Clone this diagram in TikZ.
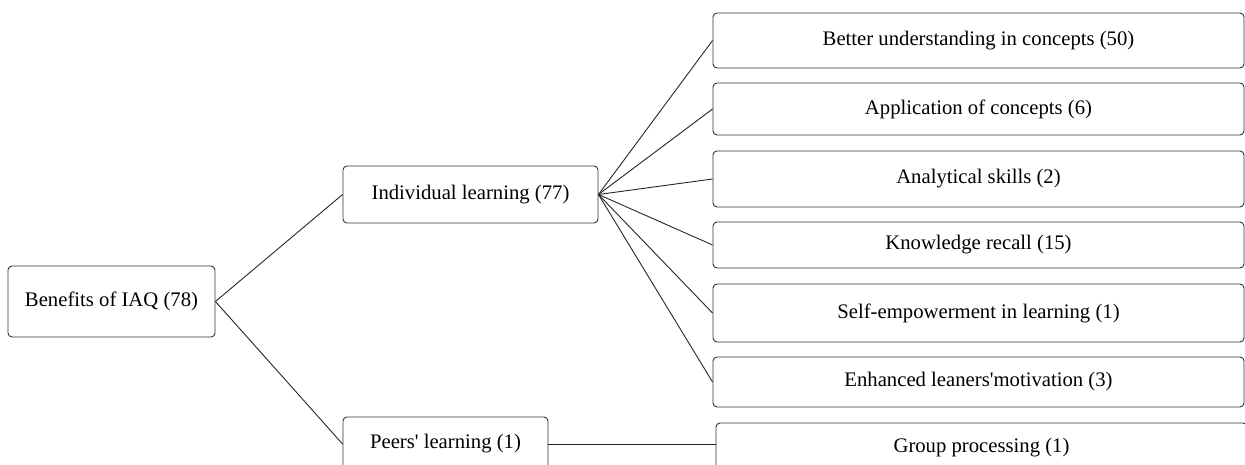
\documentclass[tikz,border=0pt]{standalone}
\usepackage{fontspec}
\setmainfont{Liberation Serif}
\begin{document}
\begin{tikzpicture}[x=1pt,y=-1pt,
	box/.style={draw=black!80,line width=0.9pt,rounded corners=4pt,fill=white,font=\fontsize{20.7}{25}\selectfont,inner sep=0pt},
	link/.style={black!85,line width=0.9pt}]
	\clip (0,0) rectangle (1245,465); %picture frame
	
	%levels 1 and 2
	\node[box,minimum width=207pt,minimum height=71pt] (root) at (111.5,301.5) {Benefits of IAQ (78)};
	\node[box,minimum width=255pt,minimum height=57pt] (indiv) at (470.5,194.5) {Individual learning (77)};
	\node[box,minimum width=205pt,minimum height=54pt] (peers) at (445.5,444) {Peers\textquotesingle{} learning (1)};
	
	%level 3
	\node[box,minimum width=531pt,minimum height=55pt] (under) at (978.5,40.5) {Better understanding in concepts (50)};
	\node[box,minimum width=531pt,minimum height=52pt] (appl) at (978.5,109) {Application of concepts (6)};
	\node[box,minimum width=531pt,minimum height=56pt] (anal) at (978.5,179) {Analytical skills (2)};
	\node[box,minimum width=531pt,minimum height=46pt] (recall) at (978.5,245) {Knowledge recall (15)};
	\node[box,minimum width=531pt,minimum height=58pt] (selfemp) at (978.5,313) {Self-empowerment in learning (1)};
	\node[box,minimum width=531pt,minimum height=50pt] (motiv) at (978.5,382) {Enhanced leaners\textquotesingle motivation (3)};
	\node[box,minimum width=531pt,minimum height=48pt,text depth=0pt] (group) at (981.5,447) {\raisebox{3pt}{Group processing (1)}};
	
	%connectors
	\draw[link] (root.east) -- (indiv.west);
	\draw[link] (root.east) -- (peers.west);
	\foreach \leaf in {under,appl,anal,recall,selfemp,motiv}
		\draw[link] (indiv.east) -- (\leaf.west);
	\draw[link] (peers.east) -- (peers.east -| group.west);
\end{tikzpicture}
\end{document}
